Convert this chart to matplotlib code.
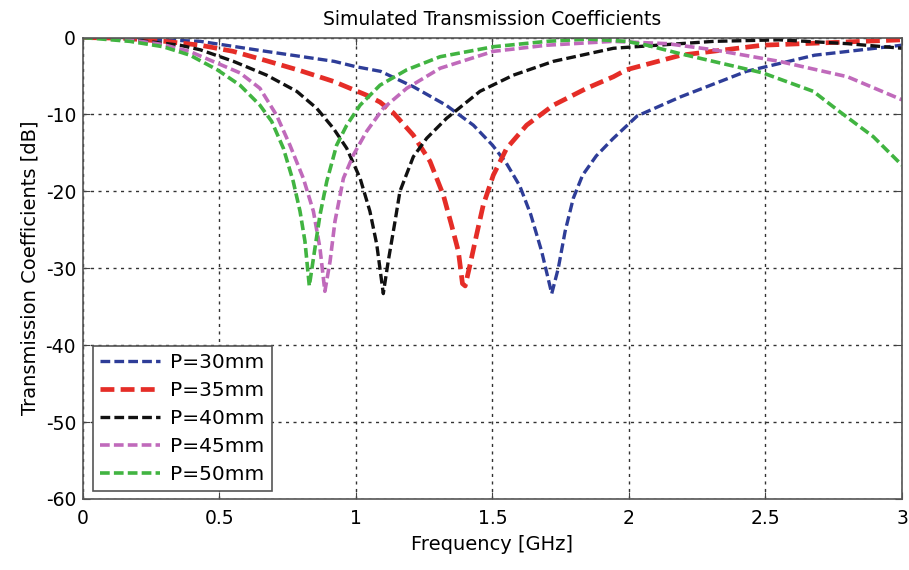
import matplotlib.pyplot as plt

plt.rcParams['font.family'] = ['DejaVu Sans']
plt.rcParams['axes.unicode_minus'] = False
plt.rcParams['lines.scale_dashes'] = False

# === data (frequency in GHz, S21 in dB) ===
f_30 = [0, 0.15, 0.29, 0.43, 0.67, 0.92, 1.0, 1.09, 1.21, 1.33, 1.43, 1.50, 1.55, 1.60, 1.64, 1.68,
        1.717, 1.741, 1.766, 1.796, 1.83, 1.88, 1.94, 2.03, 2.19, 2.43, 2.68, 3.0]
db_30 = [0, -0.1, -0.3, -0.5, -1.8, -3.1, -3.8, -4.4, -6.4, -8.8, -11.4, -14.0, -16.3, -19.3, -23.0, -27.8,
         -33.3, -30.0, -25.2, -20.9, -17.9, -15.4, -13.2, -10.2, -7.7, -4.4, -2.3, -1.0]

f_35 = [0, 0.15, 0.30, 0.43, 0.55, 0.67, 0.795, 0.917, 1.039, 1.088, 1.137, 1.21, 1.271, 1.32, 1.35, 1.375,
        1.39, 1.40, 1.418, 1.442, 1.466, 1.503, 1.552, 1.625, 1.723, 1.845, 1.943, 1.99, 2.19, 2.49, 3.0]
db_35 = [0, -0.1, -0.5, -1.0, -1.8, -3.0, -4.3, -5.7, -7.5, -8.4, -9.8, -12.7, -16.1, -20.5, -24.4, -27.8,
         -32.0, -32.3, -29.5, -25.6, -21.8, -17.9, -14.4, -11.4, -8.8, -6.6, -5.1, -4.2, -2.3, -1.0, -0.3]

f_40 = [0, 0.12, 0.233, 0.355, 0.43, 0.551, 0.673, 0.783, 0.856, 0.917, 0.966, 1.015, 1.051, 1.076, 1.10,
        1.118, 1.143, 1.161, 1.21, 1.259, 1.332, 1.454, 1.576, 1.723, 1.943, 2.31, 2.55, 2.8, 3.0]
db_40 = [0, -0.1, -0.5, -1.0, -1.6, -3.1, -4.9, -7.0, -9.2, -11.8, -14.4, -18.3, -22.6, -26.9, -33.3,
         -29.1, -23.9, -20.0, -15.5, -13.1, -10.5, -7.0, -4.9, -3.1, -1.4, -0.5, -0.3, -0.8, -1.4]

f_45 = [0, 0.15, 0.29, 0.39, 0.575, 0.648, 0.709, 0.758, 0.807, 0.844, 0.868, 0.886, 0.905, 0.923, 0.954,
        0.99, 1.039, 1.10, 1.186, 1.308, 1.503, 1.699, 1.94, 2.14, 2.31, 2.55, 2.80, 3.0]
db_45 = [0, -0.2, -0.9, -1.8, -4.6, -6.6, -10.1, -14.0, -18.3, -22.6, -27.4, -33.0, -29.1, -23.9, -18.3,
         -15.3, -12.2, -9.2, -6.6, -4.0, -1.8, -1.0, -0.5, -0.8, -1.6, -3.1, -5.1, -8.1]

f_50 = [0, 0.172, 0.294, 0.392, 0.492, 0.575, 0.648, 0.691, 0.734, 0.770, 0.795, 0.813, 0.829, 0.850, 0.868,
        0.893, 0.929, 0.966, 1.015, 1.088, 1.186, 1.308, 1.503, 1.699, 1.85, 1.99, 2.065, 2.187, 2.49, 2.675,
        2.77, 2.895, 3.0]
db_50 = [0, -0.5, -1.2, -2.3, -4.2, -6.2, -8.8, -10.9, -14.4, -18.7, -22.6, -26.5, -32.3, -27.3, -23.1,
         -18.7, -14.0, -11.4, -8.8, -6.2, -4.2, -2.5, -1.2, -0.5, -0.2, -0.5, -1.0, -2.1, -4.6, -7.0,
         -9.6, -12.9, -16.6]

labels = ["P=30mm", "P=35mm", "P=40mm", "P=45mm", "P=50mm"]
freqs = [f_30, f_35, f_40, f_45, f_50]
values = [db_30, db_35, db_40, db_45, db_50]
colors = ["#2e3d98", "#e52d27", "#111111", "#c06abb", "#41b441"]
widths = [2.4, 3.4, 2.4, 2.6, 2.6]
dashes = [(7, 3), (10, 4.5), (7, 3), (7, 3), (7, 3)]

fig = plt.figure(figsize=(9.09, 5.70), dpi=100)
ax = fig.add_axes([0.0913, 0.1246, 0.901, 0.8096])

for lab, f, db, col, lw, d in zip(labels, freqs, values, colors, widths, dashes):
    ax.plot(f, db, color=col, lw=lw, linestyle=(0, d), label=lab,
            solid_joinstyle="round", dash_joinstyle="round")

ax.set_xlim(0, 3)
ax.set_ylim(-60, 0)
ax.set_xticks([0, 0.5, 1, 1.5, 2, 2.5, 3])
ax.set_xticklabels(["0", "0.5", "1", "1.5", "2", "2.5", "3"])
ax.set_yticks([-60, -50, -40, -30, -20, -10, 0])
ax.grid(True, color="#333333", linestyle=(0, (2.2, 3.2)), linewidth=1.0)
ax.tick_params(direction="in", top=True, right=True, labelsize=13.5, length=5, color="#444444")
ax.tick_params(axis="x", pad=7)
ax.tick_params(axis="y", pad=5)
for sp in ax.spines.values():
    sp.set_color("#555555")
    sp.set_linewidth(1.2)

ax.set_title("Simulated Transmission Coefficients", fontsize=13.5, pad=9)
ax.set_xlabel("Frequency [GHz]", fontsize=14, labelpad=5)
ax.set_ylabel("Transmission Coefficients [dB]", fontsize=14, labelpad=4)

leg = ax.legend(loc="lower left", bbox_to_anchor=(0.012, 0.017), borderaxespad=0,
                fontsize=14.5, fancybox=False, framealpha=1, edgecolor="#555555",
                handlelength=3.0, handletextpad=0.5, labelspacing=0.45, borderpad=0.35)
leg.get_frame().set_linewidth(1.2)

plt.savefig("out.png", dpi=100)
plt.close()
